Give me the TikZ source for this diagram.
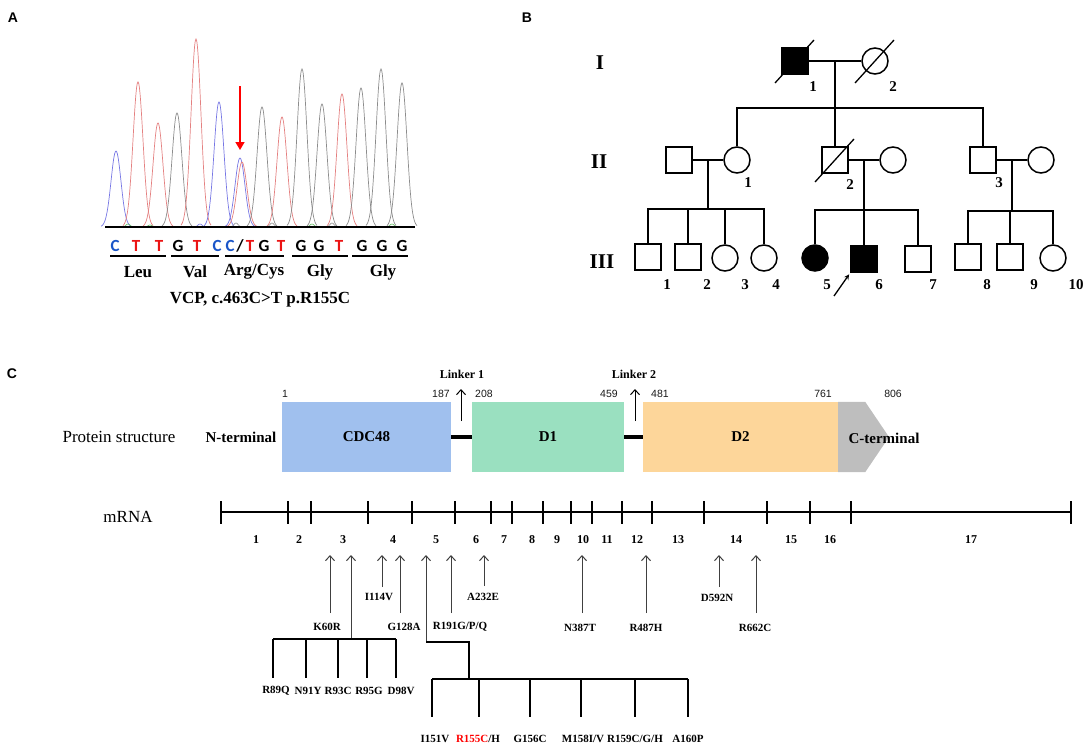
\documentclass[tikz,border=0pt]{standalone}
\usepackage{fontspec}
\setmainfont{Liberation Serif}
\newfontfamily\panelfont{Liberation Sans}
\newfontfamily\basefont{Carlito}
\usepackage{tikz}
\usetikzlibrary{arrows.meta, calc, positioning}
\definecolor{mainBlack}{gray}{0.1}
\definecolor{arrowGray}{gray}{0.25}
\definecolor{traceBlue}{RGB}{118,118,228}
\definecolor{traceRed}{RGB}{228,128,128}
\definecolor{traceGray}{RGB}{140,140,140}
\definecolor{traceGreen}{RGB}{100,190,100}
\definecolor{baseBlue}{RGB}{25,85,200}
\definecolor{baseRed}{RGB}{235,20,20}
\definecolor{cdcBlue}{RGB}{160,192,238}
\definecolor{dOneGreen}{RGB}{154,224,192}
\definecolor{dTwoOrange}{RGB}{253,214,154}
\definecolor{ctermGray}{RGB}{190,190,190}
\newcommand{\fsz}[1]{\fontsize{#1}{#1}\selectfont}

\begin{document}
\begin{tikzpicture}[x=1pt, y=-1pt, >=stealth,
    panellabel/.style={font=\panelfont\bfseries\fsz{14}, inner sep=0},
    basetext/.style={font=\basefont\bfseries\fsz{17}, inner sep=0},
    aalabel/.style={font=\bfseries\fsz{17}, inner sep=0},
    genlabel/.style={font=\bfseries\fsz{21}, inner sep=0},
    idnum/.style={font=\bfseries\fsz{15}, inner sep=0},
    male/.style={draw, line width=1.5pt, minimum size=26pt, inner sep=0},
    female/.style={male, circle},
    kin/.style={line width=1.5pt},
    dead/.style={line width=1.3pt},
    domainbox/.style={minimum height=70pt, inner sep=0, font=\bfseries\fsz{15}},
    aanum/.style={font=\panelfont\fsz{10.5}, inner sep=0, text=mainBlack},
    linkerbar/.style={line width=3.5pt},
    mutarrow/.style={-{Straight Barb[length=5pt, width=9pt]}, arrowGray, line width=1pt},
    mutlabel/.style={font=\bfseries\fsz{11}, inner sep=0},
    exonnum/.style={font=\bfseries\fsz{12}, inner sep=0},
    bracketline/.style={line width=1.4pt}]
    \useasboundingbox (0,0) rectangle (1084,744);

    % Panel letters
    \node[panellabel] (pA) at (13,18) {A};
    \node[panellabel] (pB) at (527,18) {B};
    \node[panellabel] (pC) at (12,374) {C};

    % Chromatogram
    \foreach \c/\h/\col in {116/76/traceBlue, 138/145/traceRed, 158/104/traceRed, 177/114/traceGray,
        196/188/traceRed, 219/125/traceBlue, 240/69/traceBlue, 242/65/traceRed, 262/120/traceGray,
        282/110/traceRed, 302/158/traceGray, 322/123/traceGray, 342/133/traceRed, 361/139/traceGray,
        381/158/traceGray, 402/144/traceGray}
        \draw[\col, line width=0.7pt] plot[domain=\c-15:\c+15, samples=45, smooth] (\x, {227-\h*exp(-((\x-\c)/7)^2)});
    \foreach \c/\h/\col in {128/3/traceGreen, 150/2/traceGreen, 200/3/traceBlue, 236/4/traceGray, 272/4/traceGray,
        312/3/traceGreen, 332/4/traceGray, 392/3/traceGreen}
        \draw[\col, line width=0.6pt] plot[domain=\c-7:\c+7, samples=21, smooth] (\x, {227-\h*exp(-((\x-\c)/3)^2)});
    \draw[line width=1.6pt] (105,227) -- (415,227);

    % Mutation arrow
    \coordinate (mut-top) at (240,86);
    \coordinate (mut-peak) at (240,150);
    \draw[-{Triangle[length=8pt, width=9pt]}, red, line width=1.6pt] (mut-top) -- (mut-peak);

    % Bases
    \foreach \x/\b/\col [count=\i] in {115/C/baseBlue, 136/T/baseRed, 159/T/baseRed, 178/G/black, 197/T/baseRed,
        217/C/baseBlue, 230/C/baseBlue, 250/T/baseRed, 264/G/black, 281/T/baseRed, 301/G/black, 319/G/black,
        339/T/baseRed, 362/G/black, 382/G/black, 402/G/black}
        \node[basetext, text=\col] (b\i) at (\x,246) {\b};
    \node[basetext] (bslash) at (240,246) {/};
    \foreach \a/\b in {110/166, 171/219, 225/284, 292/348, 352/408}
        \draw[line width=1.5pt] (\a,256) -- (\b,256);
    \node[aalabel] (leu) at (138,272) {Leu};
    \node[aalabel] (val) at (195,272) {Val};
    \node[aalabel] (argcys) at (254,272) {Arg/Cys};
    \node[aalabel] (gly1) at (320,272) {Gly};
    \node[aalabel] (gly2) at (383,272) {Gly};
    \node[aalabel] (caption) at (260,300) {VCP, c.463C>T p.R155C};

    % Pedigree
    \node[genlabel] (genI) at (600,63) {I};
    \node[genlabel] (genII) at (599,162) {II};
    \node[genlabel] (genIII) at (602,262) {III};

    \node[male, fill=black] (i1) at (795,61) {};
    \node[female] (i2) at (875,61) {};
    \node[male] (ii1h) at (679,160) {};
    \node[female] (ii1w) at (737,160) {};
    \node[male] (ii2h) at (835,160) {};
    \node[female] (ii2w) at (893,160) {};
    \node[male] (ii3h) at (983,160) {};
    \node[female] (ii3w) at (1041,160) {};
    \node[male] (iii1) at (648,257) {};
    \node[male] (iii2) at (688,257) {};
    \node[female] (iii3) at (725,258) {};
    \node[female] (iii4) at (764,258) {};
    \node[female, fill=black] (iii5) at (815,258) {};
    \node[male, fill=black] (iii6) at (864,259) {};
    \node[male] (iii7) at (918,259) {};
    \node[male] (iii8) at (968,257) {};
    \node[male] (iii9) at (1010,257) {};
    \node[female] (iii10) at (1053,258) {};

    % deceased
    \foreach \p in {i1, i2, ii2h}
        \draw[dead] ($(\p.center)+(-20,22)$) -- ($(\p.center)+(19,-21)$);

    % generation I to II
    \draw[kin] (i1) -- (i2);
    \coordinate (m1) at ($(i1)!0.5!(i2)$);
    \coordinate (sib2) at (835,108);
    \draw[kin] (m1) -- (ii2h.north);
    \draw[kin] (ii1w.north) |- (sib2) -| (ii3h.north);

    % generation II to III
    \draw[kin] (ii1h) -- (ii1w);
    \coordinate (m2) at ($(ii1h)!0.5!(ii1w)$);
    \coordinate (sib3a) at (708,209);
    \draw[kin] (m2) -- (sib3a);
    \draw[kin] (iii1.north) |- (sib3a) -| (iii4.north);
    \draw[kin] (iii2.north) -- (iii2.north |- sib3a);
    \draw[kin] (iii3.north) -- (iii3.north |- sib3a);

    \draw[kin] (ii2h) -- (ii2w);
    \coordinate (m3) at ($(ii2h)!0.5!(ii2w)$);
    \coordinate (sib3b) at (864,210);
    \draw[kin] (m3) -- (iii6.north);
    \draw[kin] (iii5.north) |- (sib3b) -| (iii7.north);

    \draw[kin] (ii3h) -- (ii3w);
    \coordinate (m4) at ($(ii3h)!0.5!(ii3w)$);
    \coordinate (sib3c) at (1012,211);
    \draw[kin] (m4) -- (sib3c);
    \draw[kin] (iii8.north) |- (sib3c) -| (iii10.north);
    \draw[kin] (iii9.north) -- (iii9.north |- sib3c);

    % proband
    \coordinate (proband) at (834,296);
    \draw[->, line width=1.3pt, shorten >=2pt] (proband) -- (iii6.south west);

    % individual numbers
    \foreach \x/\y/\n [count=\i] in {813/87/1, 893/87/2, 748/183/1, 850/185/2, 999/183/3,
        667/285/1, 707/285/2, 745/285/3, 776/285/4, 827/285/5, 879/285/6, 933/285/7,
        987/285/8, 1034/285/9, 1076/285/10}
        \node[idnum] (id\i) at (\x,\y) {\n};

    % Protein structure
    \node[font=\fsz{17}, inner sep=0] (prot) at (119,437) {Protein structure};
    \node[font=\bfseries\fsz{15}, inner sep=0] (nterm) at (241,437) {N-terminal};
    \node[domainbox, fill=cdcBlue, minimum width=169pt] (cdc48) at (366.5,437) {CDC48};
    \node[domainbox, fill=dOneGreen, minimum width=152pt] (d1) at (548,437) {D1};
    \node[domainbox, fill=dTwoOrange, minimum width=195pt] (d2) at (740.5,437) {D2};
    \fill[ctermGray] (d2.north east) -- ++(27,0) -- (889,437) -- ($(d2.south east)+(27,0)$) -- (d2.south east) -- cycle;
    \node[font=\bfseries\fsz{15}, inner sep=0] (cterm) at (884,438) {C-terminal};
    \draw[linkerbar] (cdc48) -- (d1);
    \draw[linkerbar] (d1) -- (d2);

    \foreach \x/\n in {285/1, 441/187, 484/208, 609/459, 660/481, 823/761, 893/806}
        \node[aanum] (aa\n) at (\x,394) {\n};

    \coordinate (lk1-base) at (461,421);
    \coordinate (lk1-tip) at (461,389);
    \draw[mutarrow, black] (lk1-base) -- (lk1-tip);
    \node[font=\bfseries\fsz{12}, inner sep=0] (lk1) at (462,374) {Linker 1};
    \coordinate (lk2-base) at (635,421);
    \coordinate (lk2-tip) at (635,389);
    \draw[mutarrow, black] (lk2-base) -- (lk2-tip);
    \node[font=\bfseries\fsz{12}, inner sep=0] (lk2) at (634,374) {Linker 2};

    % mRNA
    \node[font=\fsz{17}, inner sep=0] (mrna) at (128,517) {mRNA};
    \coordinate (ex-start) at (221,512);
    \coordinate (ex-end) at (1071,512);
    \draw[line width=1.6pt] (ex-start) -- (ex-end);
    \foreach \t in {221,288,311,368,412,455,491,512,543,571,592,622,652,704,767,810,851,1071}
        \draw[line width=1.6pt] (\t,501) -- (\t,524);
    \foreach \x [count=\n] in {256,299,343,393,436,476,504,532,557,583,607,637,678,736,791,830,971}
        \node[exonnum] (ex\n) at (\x,540) {\n};

    % single mutations
    \foreach \ax/\ay/\lx/\ly/\t in {330/613/327/627/K60R, 382/587/379/597/I114V, 400/613/404/627/G128A,
        451/613/460/627/{R191G/P/Q}, 484/586/483/597/A232E, 582/613/580/628/N387T, 646/613/646/628/R487H,
        719/587/717/598/D592N, 756/613/755/628/R662C}
    {
        \coordinate (mb\ax) at (\ax,\ay);
        \coordinate (mt\ax) at (\ax,555);
        \draw[mutarrow] (mb\ax) -- (mt\ax);
        \node[mutlabel] (ml\ax) at (\lx,\ly) {\t};
    }

    % exon 3 group
    \coordinate (g1-hub) at (351,639);
    \coordinate (g1-tip) at (351,555);
    \draw[mutarrow] (g1-hub) -- (g1-tip);
    \draw[bracketline] (273,639) -- (396,639);
    \foreach \x in {273,306,338,367,396}
        \draw[bracketline] (\x,639) -- (\x,678);
    \foreach \x/\t in {276/R89Q, 308/N91Y, 338/R93C, 369/R95G, 401/D98V}
        \node[mutlabel] (\t) at (\x,691) {\t};

    % exon 5 group
    \coordinate (g2-hub) at (426,642);
    \coordinate (g2-tip) at (426,555);
    \draw[mutarrow] (g2-hub) -- (g2-tip);
    \draw[bracketline] (g2-hub) -- (469,642) -- (469,679);
    \draw[bracketline] (432,679) -- (688,679);
    \foreach \x in {432,479,530,581,635,688}
        \draw[bracketline] (\x,679) -- (\x,717);
    \node[mutlabel] (i151v) at (435,739) {I151V};
    \node[mutlabel] (r155c) at (478,739) {\textcolor{red}{R155C}/H};
    \node[mutlabel] (g156c) at (530,739) {G156C};
    \node[mutlabel] (m158i) at (583,739) {M158I/V};
    \node[mutlabel] (r159c) at (635,739) {R159C/G/H};
    \node[mutlabel] (a160p) at (688,739) {A160P};
\end{tikzpicture}
\end{document}
